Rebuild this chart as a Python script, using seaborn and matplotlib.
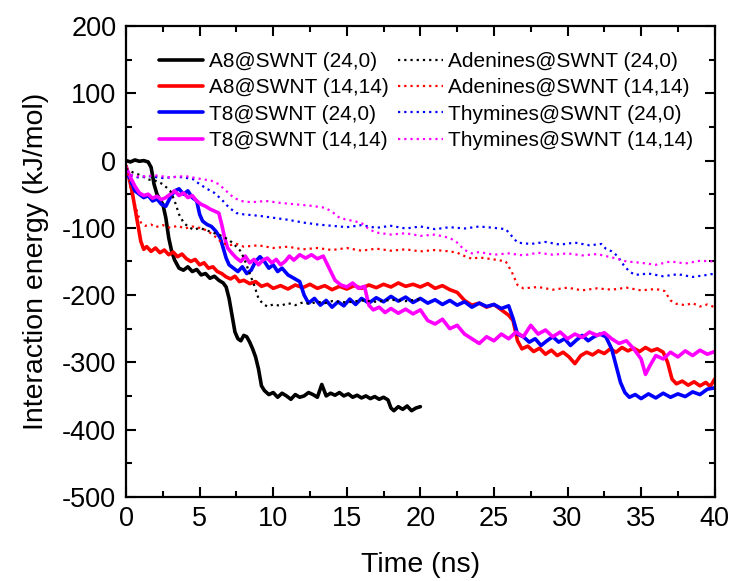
import numpy as np
import pandas as pd
import matplotlib
matplotlib.use('Agg')
import matplotlib.pyplot as plt
import seaborn as sns
from matplotlib.ticker import MultipleLocator

# Data (time in ns, energy in kJ/mol)
t_a8_240 = [0, 0.3, 0.6, 0.9, 1.2, 1.5, 1.7, 1.9, 2.1, 2.3, 2.5, 2.7, 2.9, 3.1, 3.3, 3.6, 3.9, 4.2, 4.5, 4.8,
            5.1, 5.4, 5.7, 6.0, 6.3, 6.6, 6.8, 7.0, 7.2, 7.4, 7.6, 7.8, 8.0, 8.2, 8.4, 8.6, 8.8, 9.0, 9.2, 9.4,
            9.7, 10.0, 10.3, 10.6, 10.9, 11.2, 11.5, 11.8, 12.1, 12.4, 12.7, 13.0, 13.3, 13.6, 13.9, 14.2, 14.5,
            14.8, 15.1, 15.4, 15.7, 16.0, 16.3, 16.6, 16.9, 17.2, 17.5, 17.8, 18.0, 18.2, 18.5, 18.8, 19.1, 19.4,
            19.7, 20.0]
e_a8_240 = [0, -2, 1, -1, 0, -2, -10, -35, -50, -58, -65, -85, -115, -135, -148, -160, -163, -158, -165, -162,
            -170, -168, -175, -172, -178, -182, -188, -205, -230, -255, -265, -268, -260, -262, -270, -280, -292,
            -310, -335, -342, -348, -345, -352, -346, -350, -355, -348, -352, -350, -345, -348, -352, -333, -350,
            -346, -349, -345, -350, -347, -352, -349, -353, -350, -354, -351, -355, -352, -356, -368, -372, -366,
            -370, -365, -372, -368, -366]

t_ade_240 = [0, 0.5, 1.0, 1.5, 2.0, 2.5, 3.0, 3.3, 3.6, 3.9, 4.2, 4.6, 5.0, 5.5, 6.0, 6.5, 7.0, 7.5, 7.8, 8.1,
             8.4, 8.7, 9.0, 9.3, 9.6, 10, 10.5, 11, 11.5, 12, 12.5, 13, 13.5, 14, 15, 16, 17, 18, 19, 20]
e_ade_240 = [-12, -18, -22, -28, -30, -35, -45, -60, -80, -92, -98, -103, -100, -104, -108, -112, -118, -128,
             -135, -150, -168, -185, -205, -213, -217, -214, -216, -212, -215, -211, -213, -210, -212, -209,
             -211, -208, -210, -207, -209, -206]

t_a8_1414 = [0, 0.2, 0.4, 0.6, 0.8, 1.0, 1.2, 1.4, 1.7, 2.0, 2.3, 2.6, 2.9, 3.2, 3.5, 3.8, 4.1, 4.4, 4.7, 5.0,
             5.3, 5.6, 5.9, 6.2, 6.5, 6.8, 7.1, 7.4, 7.7, 8.0, 8.4, 8.8, 9.2, 9.6, 10.0, 10.5, 11, 11.5, 12,
             12.5, 13, 13.5, 14, 14.5, 15, 15.5, 16, 16.5, 17, 17.5, 18, 18.5, 19, 19.5, 20, 20.5, 21, 21.5, 22,
             22.5, 23, 23.5, 24, 24.5, 25, 25.5, 26, 26.3, 26.6, 26.9, 27.3, 27.7, 28.1, 28.5, 28.9, 29.3, 29.7,
             30.1, 30.5, 30.9, 31.3, 31.7, 32.1, 32.5, 32.9, 33.3, 33.7, 34.1, 34.5, 34.9, 35.3, 35.7, 36.1,
             36.5, 36.8, 37.1, 37.4, 37.8, 38.2, 38.6, 39.0, 39.4, 39.7, 40]
e_a8_1414 = [-8, -25, -45, -70, -95, -120, -132, -128, -135, -130, -137, -133, -140, -136, -143, -139, -146,
             -150, -147, -155, -152, -160, -158, -165, -168, -173, -176, -172, -180, -178, -183, -180, -187,
             -184, -190, -186, -191, -185, -189, -184, -190, -186, -192, -187, -191, -186, -190, -185, -189,
             -184, -188, -182, -187, -184, -188, -183, -190, -186, -192, -196, -208, -215, -212, -218, -214,
             -222, -230, -238, -268, -280, -276, -284, -279, -288, -282, -290, -285, -292, -302, -290, -285,
             -289, -283, -287, -280, -285, -278, -283, -279, -284, -278, -283, -280, -285, -300, -325, -332,
             -328, -334, -329, -335, -330, -336, -325]

t_ade_1414 = [0, 0.2, 0.4, 0.6, 0.8, 1.0, 1.3, 1.7, 2.0, 2.5, 3.0, 3.5, 4.0, 4.5, 5.0, 5.5, 6.0, 6.5, 7.0, 7.5,
              8, 9, 10, 11, 12, 13, 14, 15, 16, 17, 18, 19, 20, 21, 22, 22.5, 23, 23.5, 24, 25, 25.8, 26.2,
              26.6, 27, 28, 29, 30, 31, 32, 33, 34, 35, 36, 36.6, 37, 37.4, 38, 38.5, 39, 39.5, 40]
e_ade_1414 = [-10, -30, -50, -65, -80, -92, -97, -95, -99, -96, -100, -97, -101, -98, -100, -104, -112, -122,
              -126, -124, -128, -126, -130, -128, -132, -130, -133, -130, -134, -131, -134, -132, -135, -133,
              -135, -137, -142, -146, -144, -147, -150, -165, -185, -190, -188, -192, -189, -193, -190, -192,
              -189, -193, -191, -194, -208, -213, -215, -212, -217, -214, -218]

t_t8_240 = [0, 0.3, 0.6, 0.9, 1.2, 1.5, 1.8, 2.1, 2.4, 2.7, 3.0, 3.3, 3.6, 3.9, 4.2, 4.5, 4.8, 5.0, 5.2, 5.5,
            5.8, 6.1, 6.4, 6.6, 6.8, 7.0, 7.3, 7.6, 7.9, 8.2, 8.5, 8.8, 9.1, 9.4, 9.7, 10.0, 10.3, 10.6, 11.0,
            11.4, 11.8, 12.1, 12.4, 12.8, 13.2, 13.6, 14.0, 14.4, 14.8, 15.2, 15.6, 16.0, 16.5, 17, 17.5, 18,
            18.5, 19, 19.5, 20, 20.5, 21, 21.5, 22, 22.5, 23, 23.5, 24, 24.5, 25, 25.5, 26, 26.3, 26.6, 27.0,
            27.4, 27.8, 28.2, 28.6, 29, 29.4, 29.8, 30.2, 30.6, 31, 31.4, 31.8, 32.2, 32.6, 33.0, 33.3, 33.6,
            33.9, 34.2, 34.6, 35, 35.5, 36, 36.5, 37, 37.5, 38, 38.5, 39, 39.5, 40]
e_t8_240 = [-12, -30, -45, -50, -55, -52, -60, -57, -65, -68, -55, -45, -42, -50, -45, -55, -60, -80, -90, -95,
            -98, -105, -115, -130, -145, -155, -160, -165, -158, -168, -163, -150, -143, -150, -160, -155, -165,
            -160, -170, -175, -180, -200, -212, -205, -215, -208, -218, -210, -216, -206, -214, -205, -212,
            -204, -210, -202, -209, -203, -211, -205, -212, -207, -214, -208, -215, -210, -218, -212, -217,
            -214, -220, -216, -235, -258, -262, -270, -265, -275, -268, -262, -270, -265, -275, -267, -260,
            -268, -262, -258, -262, -280, -305, -330, -345, -352, -348, -354, -347, -353, -346, -352, -347,
            -351, -344, -348, -340, -338]

t_thy_240 = [0, 0.4, 0.8, 1.5, 2.5, 3.5, 4.5, 5.0, 5.5, 6.0, 6.5, 7.0, 7.5, 8, 9, 10, 11, 12, 13, 14, 15, 16,
             17, 18, 19, 20, 21, 22, 23, 24, 25, 25.8, 26.2, 26.6, 27.5, 28.5, 29.5, 30.5, 31.5, 32.3, 32.6,
             33.0, 33.4, 33.8, 34.2, 34.6, 35.5, 36.5, 37.5, 38.5, 39.5, 40]
e_thy_240 = [-15, -22, -25, -23, -26, -24, -27, -35, -42, -48, -58, -70, -78, -80, -82, -85, -88, -92, -95, -97,
             -99, -96, -100, -97, -101, -98, -102, -99, -101, -98, -100, -102, -112, -122, -124, -121, -125,
             -122, -126, -124, -131, -135, -142, -155, -165, -170, -168, -172, -169, -173, -170, -168]

t_t8_1414 = [0, 0.3, 0.6, 0.9, 1.2, 1.5, 1.8, 2.1, 2.4, 2.7, 3.0, 3.3, 3.6, 3.9, 4.2, 4.5, 4.8, 5.1, 5.4, 5.7,
             6.0, 6.3, 6.5, 6.7, 6.9, 7.2, 7.5, 7.8, 8.1, 8.4, 8.7, 9.0, 9.3, 9.6, 9.9, 10.2, 10.5, 10.8, 11.1,
             11.4, 11.8, 12.2, 12.6, 13.0, 13.4, 13.8, 14.2, 14.6, 15.0, 15.4, 15.8, 16.2, 16.5, 16.8, 17.2,
             17.6, 18.0, 18.5, 19.0, 19.5, 20.0, 20.5, 21.0, 21.5, 22.0, 22.5, 23.0, 23.5, 24.0, 24.5, 25.0,
             25.5, 26.0, 26.5, 27.0, 27.5, 28.0, 28.5, 29, 29.5, 30, 30.5, 31, 31.5, 32, 32.5, 33.0, 33.5, 34,
             34.5, 35.0, 35.3, 35.6, 36, 36.5, 37, 37.5, 38, 38.5, 39, 39.5, 40]
e_t8_1414 = [-10, -25, -38, -48, -52, -50, -56, -53, -58, -55, -50, -45, -52, -48, -55, -52, -60, -65, -68,
             -72, -75, -78, -95, -115, -130, -138, -145, -150, -142, -152, -147, -155, -148, -145, -152, -147,
             -155, -150, -142, -148, -140, -145, -140, -146, -142, -160, -178, -185, -188, -182, -190, -187,
             -215, -222, -218, -226, -220, -227, -221, -228, -222, -238, -243, -236, -250, -245, -258, -265,
             -272, -262, -268, -258, -265, -255, -262, -245, -258, -252, -262, -255, -265, -258, -263, -255,
             -260, -256, -265, -272, -268, -280, -295, -318, -305, -290, -295, -285, -292, -283, -290, -282,
             -288, -284]

t_thy_1414 = [0, 0.4, 1, 2, 3, 4, 5, 5.8, 6.3, 6.8, 7.3, 7.8, 8.5, 9.5, 10.5, 11.5, 12.5, 13.5, 14, 14.5, 15,
              15.5, 16, 16.5, 17, 18, 19, 20, 21, 22, 22.5, 23, 23.5, 24, 25, 26, 27, 28, 29, 30, 31, 32, 32.6,
              33.2, 34, 35, 36, 37, 38, 39, 40]
e_thy_1414 = [-15, -22, -24, -22, -25, -23, -27, -30, -35, -45, -55, -60, -62, -60, -63, -65, -67, -70, -76,
              -85, -88, -90, -93, -102, -107, -110, -108, -112, -110, -115, -122, -133, -138, -136, -140, -138,
              -141, -137, -140, -138, -141, -139, -142, -145, -150, -152, -155, -150, -153, -149, -150]

series = [
    ('A8@SWNT (24,0)', t_a8_240, e_a8_240, 'black', '-'),
    ('A8@SWNT (14,14)', t_a8_1414, e_a8_1414, 'red', '-'),
    ('T8@SWNT (24,0)', t_t8_240, e_t8_240, 'blue', '-'),
    ('T8@SWNT (14,14)', t_t8_1414, e_t8_1414, 'magenta', '-'),
    ('Adenines@SWNT (24,0)', t_ade_240, e_ade_240, 'black', ':'),
    ('Adenines@SWNT (14,14)', t_ade_1414, e_ade_1414, 'red', ':'),
    ('Thymines@SWNT (24,0)', t_thy_240, e_thy_240, 'blue', ':'),
    ('Thymines@SWNT (14,14)', t_thy_1414, e_thy_1414, 'magenta', ':'),
]

sns.set_style('ticks')
plt.rcParams['font.family'] = ['Liberation Sans', 'DejaVu Sans']
plt.rcParams.update({'text.color': 'black', 'axes.labelcolor': 'black', 'axes.edgecolor': 'black',
                     'xtick.color': 'black', 'ytick.color': 'black', 'axes.unicode_minus': False})

fig = plt.figure(figsize=(7.33, 5.81), dpi=100)
ax = fig.add_axes([0.172, 0.145, 0.803, 0.81])

for label, t, e, color, ls in series:
    df = pd.DataFrame({'t': t, 'e': e})
    if ls == '-':
        sns.lineplot(data=df, x='t', y='e', ax=ax, color=color, lw=2.6, label=label, estimator=None)
    else:
        sns.lineplot(data=df, x='t', y='e', ax=ax, color=color, lw=1.6, label=label, estimator=None,
                     linestyle=(0, (1, 1.8)))

ax.set_xlim(0, 40)
ax.set_ylim(-500, 200)
ax.xaxis.set_major_locator(MultipleLocator(5))
ax.xaxis.set_minor_locator(MultipleLocator(2.5))
ax.yaxis.set_major_locator(MultipleLocator(100))
ax.yaxis.set_minor_locator(MultipleLocator(50))
ax.tick_params(which='both', direction='in', top=True, right=True, labelsize=19.5, width=1.5, pad=7)
ax.tick_params(which='major', length=7)
ax.tick_params(which='minor', length=4)
for sp in ax.spines.values():
    sp.set_linewidth(1.6)

ax.set_xlabel('Time (ns)', fontsize=20.5, labelpad=14)
ax.set_ylabel('Interaction energy (kJ/mol)', fontsize=20.5, labelpad=9)

ax.legend(ncol=2, loc='upper left', bbox_to_anchor=(0.0235, 0.985), frameon=False, fontsize=15,
          handlelength=2.15, handletextpad=0.25, columnspacing=0.45, labelspacing=0.35, borderpad=0.4)

fig.savefig('out.png', dpi=100)
